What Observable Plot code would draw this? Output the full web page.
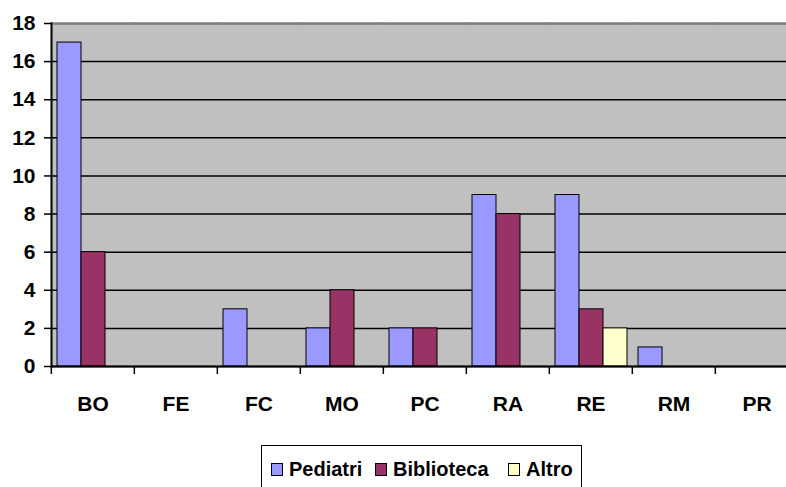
<!DOCTYPE html>
<html><head><meta charset="utf-8">
<script src="https://cdn.jsdelivr.net/npm/d3@7"></script>
<script src="https://cdn.jsdelivr.net/npm/@observablehq/plot@0.6"></script>
<style>
html,body{margin:0;padding:0;background:#fff;overflow:hidden;width:786px;height:487px}
#chart svg{display:block}
#legend{position:absolute;left:261px;top:445px;width:321px;height:60px;box-sizing:border-box;border:1px solid #000;
  font-family:'Liberation Sans',Arial,sans-serif;font-weight:bold;font-size:20px;color:#000}
.sw{position:absolute;top:17px;width:10px;height:11px;border:1px solid #000}
.lab{position:absolute;top:13px;line-height:20px;white-space:nowrap}
</style></head><body><div id="chart"></div><div id="legend"></div>
<script>
const categories = ["BO","FE","FC","MO","PC","RA","RE","RM","PR"];
const seriesNames = ["Pediatri","Biblioteca","Altro"];
const pediatri   = [17,0,3,2,2,9,9,1,0];
const biblioteca = [6,0,0,4,2,8,3,0,0];
const altro      = [0,0,0,0,0,0,2,0,0];
const colors = ["#9999ff","#993366","#ffffcc"];
const yTicks = [0,2,4,6,8,10,12,14,16,18];

const seriesValues = [pediatri, biblioteca, altro];
const data = [];
categories.forEach((c, i) => {
  seriesValues.forEach((arr, j) => {
    if (arr[i] > 0) data.push({cat: c, series: seriesNames[j], value: arr[i]});
  });
});

const plot = Plot.plot({
  width: 786, height: 440,
  marginLeft: 49, marginRight: -13, marginTop: 23, marginBottom: 74,
  style: {fontFamily: "'Liberation Sans', Arial, sans-serif", fontWeight: "bold", background: "transparent", color: "#000"},
  fx: {domain: categories, padding: 0, axis: null, label: null},
  x: {domain: seriesNames, paddingInner: 0, paddingOuter: 0.1667, axis: null},
  y: {domain: [0, 18], axis: null},
  color: {domain: seriesNames, range: colors},
  marks: [
    Plot.frame({fill: "#c0c0c0", shapeRendering: "crispEdges"}),
    Plot.gridY(yTicks, {stroke: "#000", strokeOpacity: 1, strokeWidth: 1.5}),
    Plot.frame({anchor: "top", stroke: "#808080", strokeWidth: 2}),
    Plot.barY(data, {fx: "cat", x: "series", y: "value", fill: "series", stroke: "#000", strokeWidth: 1}),
    Plot.ruleY(categories, {fx: d => d, y: () => 0, stroke: "#000", strokeWidth: 2}),
    Plot.frame({anchor: "left", stroke: "#000", strokeWidth: 2, facetAnchor: "left"}),
    Plot.axisY(yTicks, {tickSize: 7, tickPadding: 9, fontSize: 21, strokeWidth: 1.5, label: null}),
    Plot.axisFx({anchor: "bottom", tickSize: 8, strokeWidth: 1.5, tickFormat: () => "", label: null, dx: -41.67}),
    Plot.axisFx({anchor: "bottom", tickSize: 0, tickPadding: 30, fontSize: 21, label: null})
  ]
});
document.getElementById("chart").appendChild(plot);

// legend
const legend = document.getElementById("legend");
const swLeft = [9, 113, 246];
seriesNames.forEach((name, j) => {
  const sw = document.createElement("div");
  sw.className = "sw";
  sw.style.left = swLeft[j] + "px";
  sw.style.background = colors[j];
  legend.appendChild(sw);
  const lab = document.createElement("div");
  lab.className = "lab";
  lab.style.left = (swLeft[j] + 18) + "px";
  lab.textContent = name;
  legend.appendChild(lab);
});
</script>
</body></html>
